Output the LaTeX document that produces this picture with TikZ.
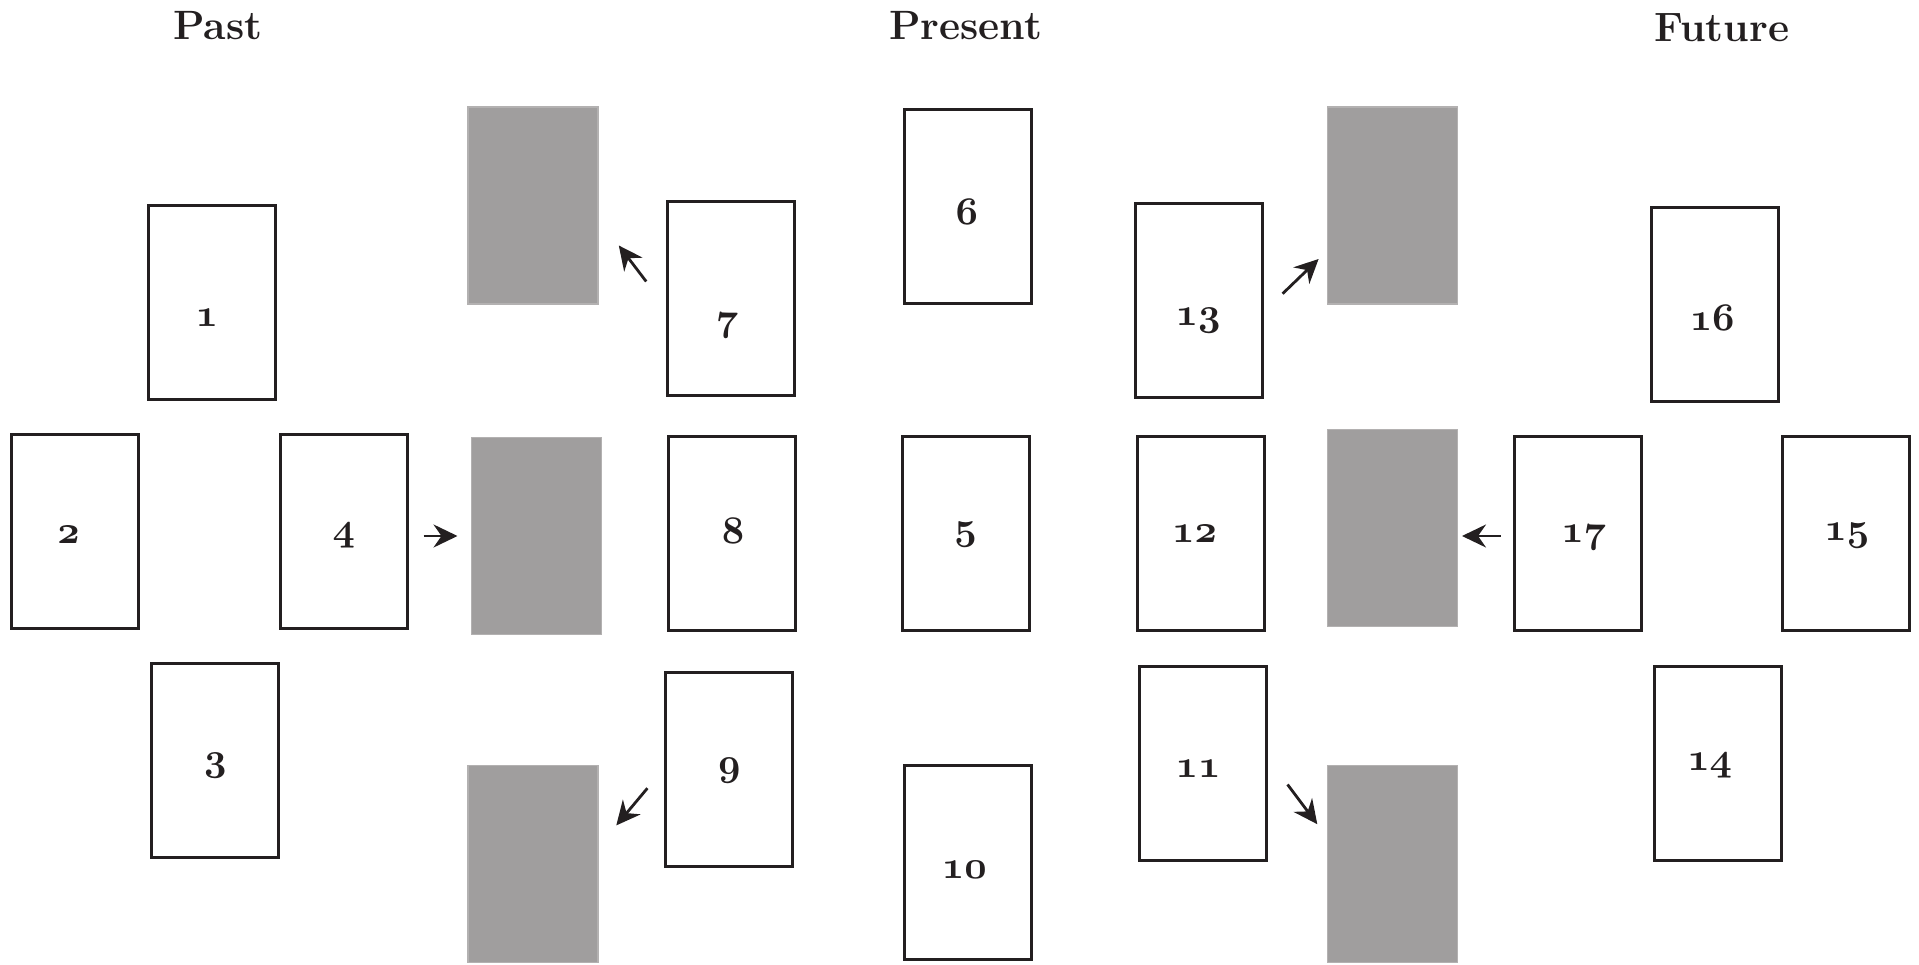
\documentclass[tikz,border=0pt]{standalone}
\usepackage{fontspec}
\usetikzlibrary{arrows.meta}
\definecolor{ink}{HTML}{231F20}
\definecolor{card}{HTML}{A09E9E}
\definecolor{cardedge}{HTML}{B3B1B1}
\DeclareFontFamily{OML}{mycmm}{\skewchar\font=127}
\DeclareFontShape{OML}{mycmm}{b}{it}{<-> cmmib10}{}
\newcommand\osnum[1]{{\fontencoding{OML}\fontfamily{mycmm}\fontseries{b}\fontshape{it}\fontsize{39}{44}\selectfont #1}}
\begin{document}
\begin{tikzpicture}[x=1pt,y=-1pt,
  cardbox/.style={draw=ink, line width=3pt, minimum width=127pt, minimum height=194pt, inner sep=0pt, fill=white},
  greybox/.style={draw=cardedge, line width=1.2pt, fill=card, minimum width=130pt, minimum height=197pt, inner sep=0pt},
  title/.style={font=\fontsize{41}{46}\selectfont\bfseries, text=ink, inner sep=0pt},
  num/.style={text=ink, inner sep=0pt},
  arr/.style={draw=ink, line width=2.8pt, -{Stealth[length=24pt,width=23pt,inset=8pt]}}
]
\useasboundingbox (0,0) rectangle (1919,965);
% titles
\node[title] (tpast) at (217.8,25.7) {Past};
\node[title] (tpresent) at (965.6,25.7) {Present};
\node[title] (tfuture) at (1722,28.1) {Future};
% grey cards
\node[greybox] (g1) at (533.0,205.6) {};
\node[greybox] (g2) at (536.7,536.0) {};
\node[greybox] (g3) at (533.0,864.0) {};
\node[greybox] (g4) at (1392.1,205.6) {};
\node[greybox] (g5) at (1392.1,528.1) {};
\node[greybox] (g6) at (1392.1,864.0) {};
% cards
\node[cardbox] (c1) at (212.3,302.9) {};
\node[cardbox] (c2) at (75.3,531.2) {};
\node[cardbox] (c3) at (215.4,760.6) {};
\node[cardbox] (c4) at (343.9,531.2) {};
\node[cardbox] (c7) at (730.6,298.6) {};
\node[cardbox] (c8) at (731.9,533.6) {};
\node[cardbox] (c9) at (729.4,769.8) {};
\node[cardbox] (c6) at (968.1,206.2) {};
\node[cardbox] (c5) at (965.6,533.6) {};
\node[cardbox] (c10) at (968.1,862.8) {};
\node[cardbox] (c13) at (1199.4,300.5) {};
\node[cardbox] (c12) at (1200.6,533.6) {};
\node[cardbox] (c11) at (1203.0,763.1) {};
\node[cardbox] (c16) at (1714.6,304.7) {};
\node[cardbox] (c17) at (1577.5,533.6) {};
\node[cardbox] (c15) at (1846.2,533.6) {};
\node[cardbox] (c14) at (1717.7,763.1) {};
% labels
\node[num] (l1) at (206.8,318.2) {\osnum{1}};
\node[num] (l2) at (68.5,534.8) {\osnum{2}};
\node[num] (l3) at (215.4,766.1) {\osnum{3}};
\node[num] (l4) at (343.9,536.0) {\osnum{4}};
\node[num] (l7) at (727.0,325.5) {\osnum{7}};
\node[num] (l8) at (733.1,531.2) {\osnum{8}};
\node[num] (l9) at (729.4,771.0) {\osnum{9}};
\node[num] (l6) at (966.8,211.7) {\osnum{6}};
\node[num] (l5) at (965.6,534.8) {\osnum{5}};
\node[num] (l10) at (964.4,870.2) {\osnum{10}};
\node[num] (l13) at (1198.1,320.6) {\osnum{13}};
\node[num] (l12) at (1194.5,533.6) {\osnum{12}};
\node[num] (l11) at (1198.1,768.6) {\osnum{11}};
\node[num] (l16) at (1712.2,318.2) {\osnum{16}};
\node[num] (l17) at (1583.7,537.3) {\osnum{17}};
\node[num] (l15) at (1846.8,536.0) {\osnum{15}};
\node[num] (l14) at (1709.7,766.1) {\osnum{14}};
% arrow endpoints
\coordinate (a4s) at (423.5,536.0);  \coordinate (a4e) at (457.5,536.0);
\coordinate (a7s) at (646.2,281.5);  \coordinate (a7e) at (618.8,245.5);
\coordinate (a9s) at (647.4,788.2);  \coordinate (a9e) at (616.3,825.4);
\coordinate (a13s) at (1282.6,293.7); \coordinate (a13e) at (1318.6,259.0);
\coordinate (a17s) at (1500.5,536.0); \coordinate (a17e) at (1462.0,536.0);
\coordinate (a11s) at (1287.5,784.5); \coordinate (a11e) at (1317.3,824.2);
\draw[arr] (a4s) -- (a4e);
\draw[arr] (a7s) -- (a7e);
\draw[arr] (a9s) -- (a9e);
\draw[arr] (a13s) -- (a13e);
\draw[arr] (a17s) -- (a17e);
\draw[arr] (a11s) -- (a11e);
\end{tikzpicture}
\end{document}
